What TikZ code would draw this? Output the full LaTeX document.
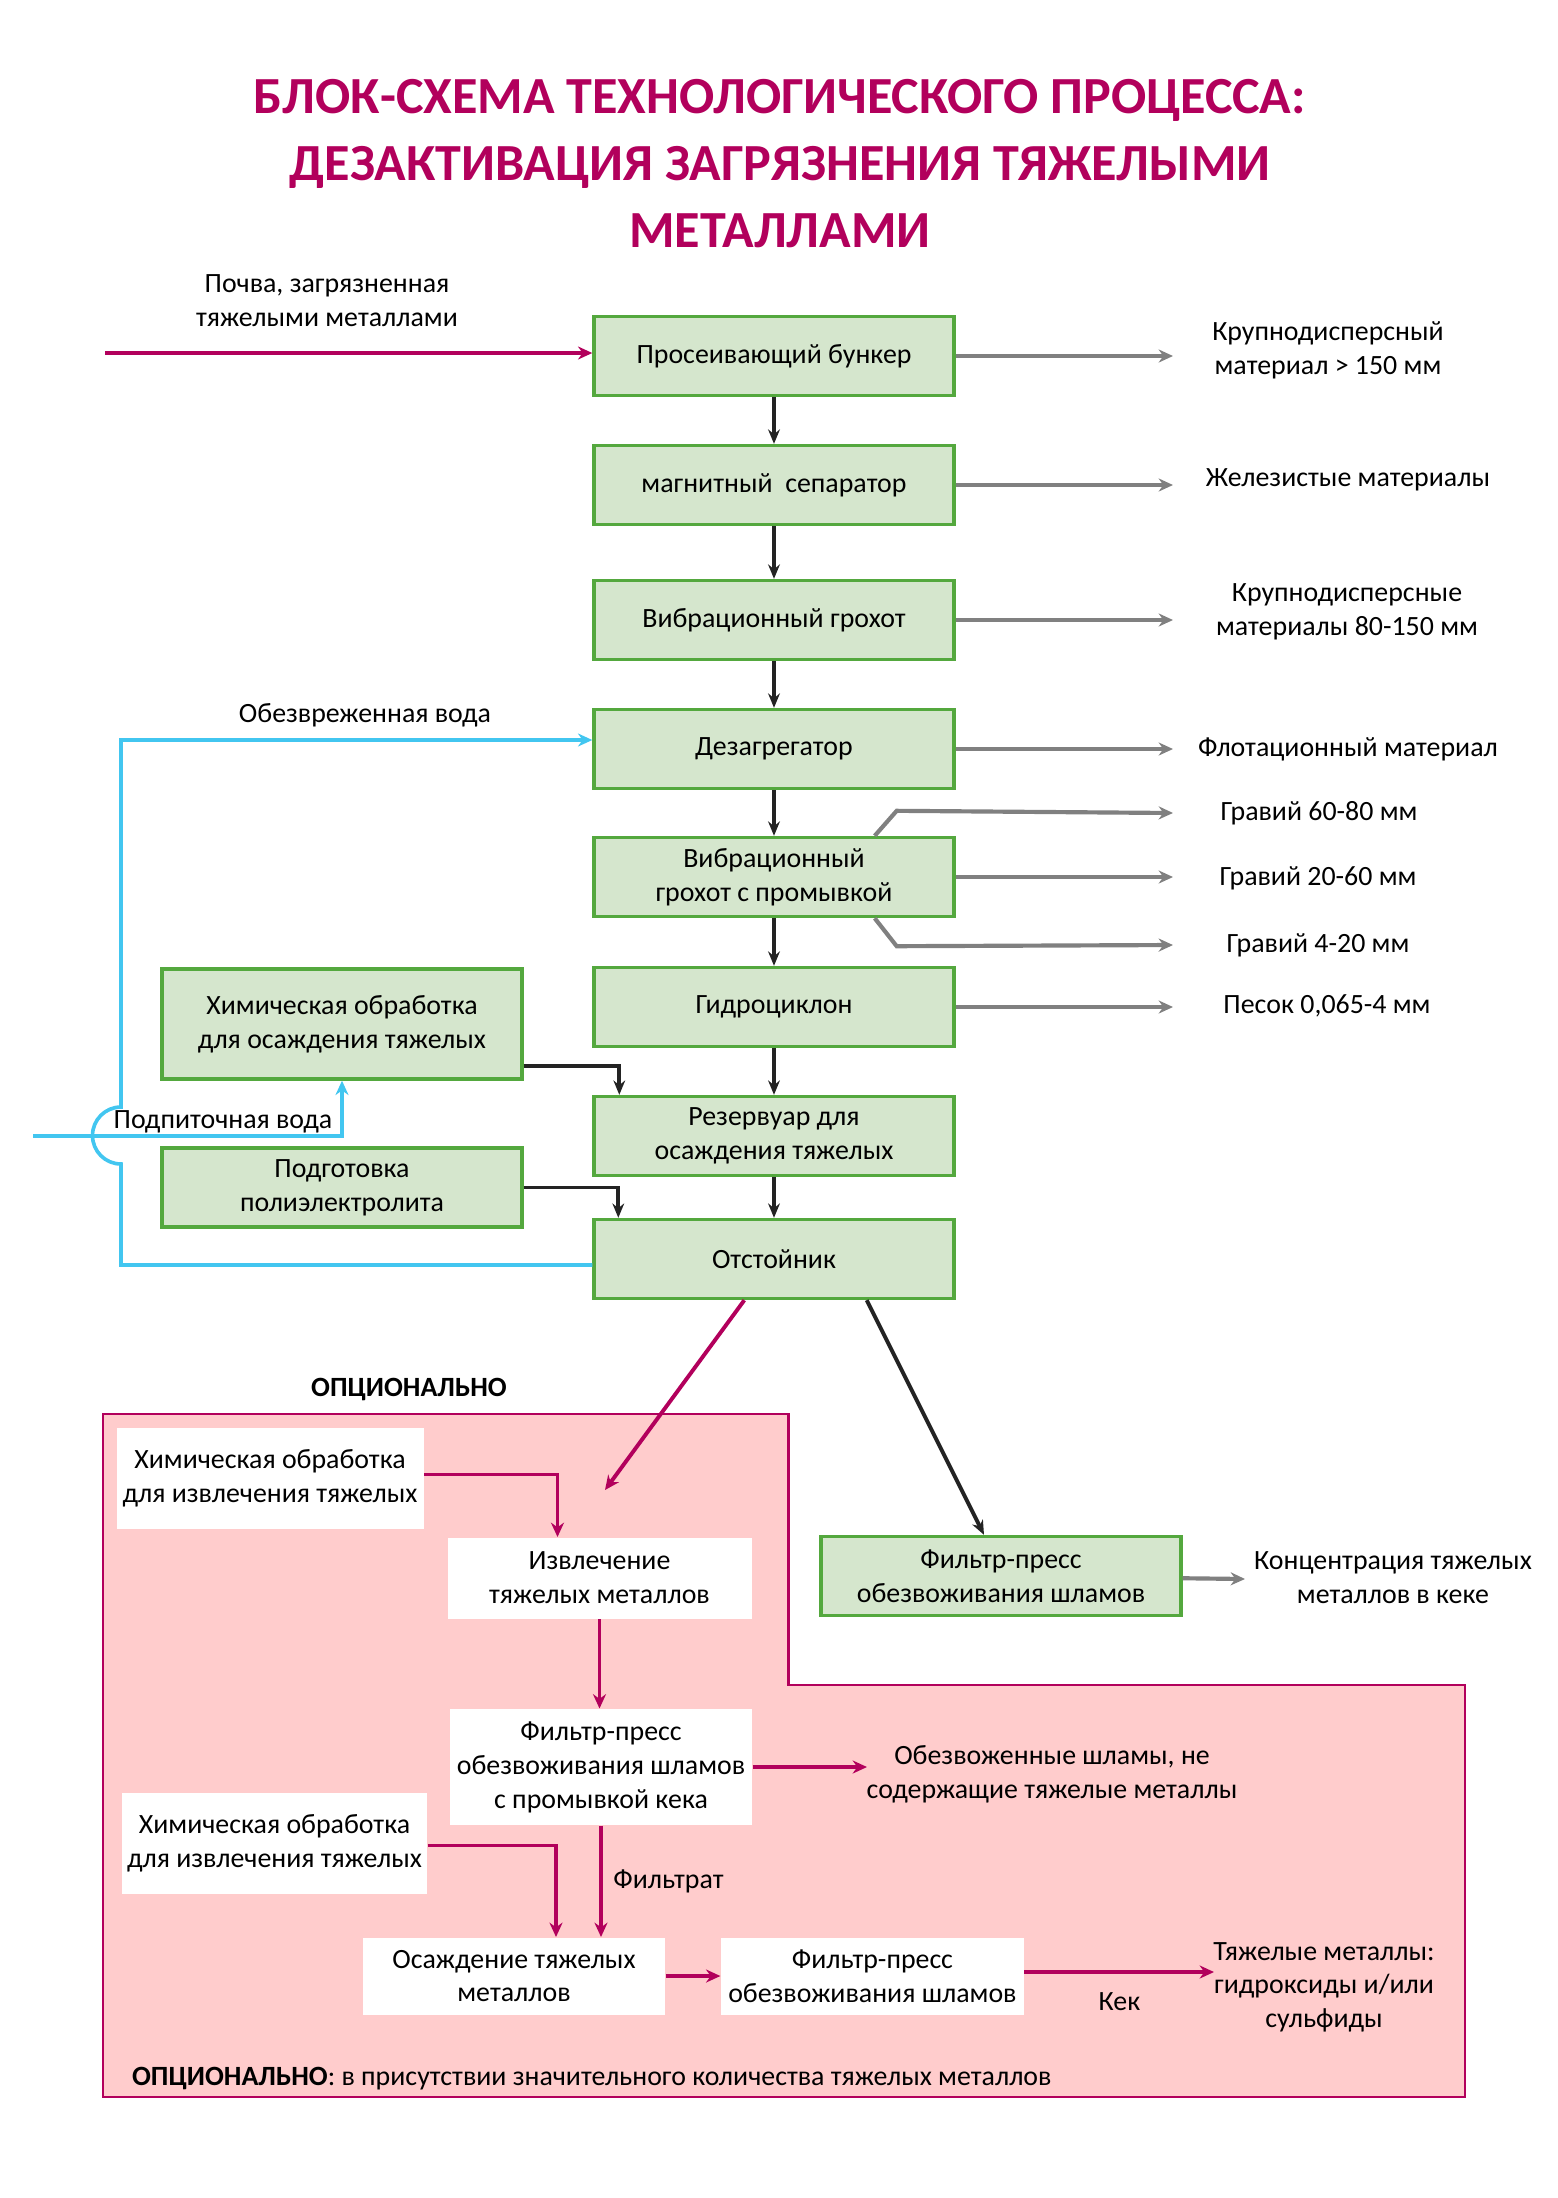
\documentclass[tikz,border=0pt]{standalone}
\usepackage{fontspec}
\setmainfont{Carlito}
\usetikzlibrary{positioning}
\usetikzlibrary{arrows.meta}
\usetikzlibrary{calc}
\definecolor{titlered}{RGB}{178,0,92}
\definecolor{boxgreen}{RGB}{84,168,62}
\definecolor{boxfill}{RGB}{213,230,205}
\definecolor{optpink}{RGB}{255,204,204}
\definecolor{waterblue}{RGB}{66,198,240}
\definecolor{outgray}{RGB}{128,128,128}
\definecolor{flowblack}{RGB}{35,35,35}
\def\u{0.013487cm}
\tikzstyle{procbox}=[draw=boxgreen, fill=boxfill, line width=1.3pt, minimum width=360*\u, minimum height=79*\u, align=center, inner sep=2pt]
\tikzstyle{optbox}=[fill=white, align=center, inner sep=2pt]
\tikzstyle{lbl}=[align=center, inner sep=1pt]
\tikzstyle{mainflow}=[draw=flowblack, line width=1.5pt, -{Stealth[length=5.5pt,width=4.5pt]}]
\tikzstyle{outflow}=[draw=outgray, line width=1.6pt, -{Stealth[length=5.5pt,width=5pt]}]
\tikzstyle{optflow}=[draw=titlered, line width=1.5pt, -{Stealth[length=5.5pt,width=5pt]}]
\tikzstyle{water}=[draw=waterblue, line width=1.4pt]

\begin{document}
\begin{tikzpicture}[x=\u, y=-\u, font=\fontsize{10.7}{13}\selectfont]

  \useasboundingbox (0,0) rectangle (1557,2198);

  \node[font=\fontsize{20}{25.7}\selectfont\bfseries, text=titlered, align=center] (title) at (780,164)
    {БЛОК-СХЕМА ТЕХНОЛОГИЧЕСКОГО ПРОЦЕССА:\\ДЕЗАКТИВАЦИЯ ЗАГРЯЗНЕНИЯ ТЯЖЕЛЫМИ\\МЕТАЛЛАМИ};

  % optional part in the background
  \draw[draw=titlered, fill=optpink, line width=1pt] (103,1414) -- (788.5,1414) -- (788.5,1685) -- (1465,1685) -- (1465,2097) -- (103,2097) -- cycle;
  \node[font=\fontsize{10.7}{13}\selectfont\bfseries] (optlabel) at (409,1389) {ОПЦИОНАЛЬНО};

  % main column
  \foreach \y/\name/\label in {356/bunker/{Просеивающий бункер}, 485/magsep/{магнитный\ \ сепаратор}, 620/vibro/{Вибрационный грохот}, 749/desag/{Дезагрегатор}, 877/washer/{Вибрационный\\грохот с промывкой}, 1007/hydro/{Гидроциклон}, 1136/tank/{Резервуар для\\осаждения тяжелых}, 1259/settler/{Отстойник}}
     \node[procbox] (\name) at (774,\y) {\label};

  \foreach \source/\dest in {bunker/magsep, magsep/vibro, vibro/desag, desag/washer, washer/hydro, hydro/tank, tank/settler}
     \draw[mainflow] (\source) -- (\dest);

  % outputs on the right
  \foreach \name/\y/\ly/\lx/\label in {bunker/356/350/1328/{Крупнодисперсный\\материал > 150 мм}, magsep/485/480/1348/{Железистые материалы}, vibro/620/612/1347/{Крупнодисперсные\\материалы 80-150 мм}, desag/749/749/1348/{Флотационный материал}, washer/877/878/1318/{Гравий 20-60 мм}, hydro/1007/1006/1327/{Песок 0,065-4 мм}}
  {
     \coordinate (\name-out) at (1173,\y);
     \node[lbl] (\name-txt) at (\lx,\ly) {\label};
     \draw[outflow] (\name) -- (\name-out);
  }

  \coordinate (washhi) at (1173,813);
  \coordinate (washlo) at (1173,945);
  \node[lbl] (washhi-txt) at (1319,813) {Гравий 60-80 мм};
  \node[lbl] (washlo-txt) at (1318,945) {Гравий 4-20 мм};
  \draw[outflow] ($(washer.north east)+(-81,0)$) -- ++(22,-25) -- (washhi);
  \draw[outflow] ($(washer.south east)+(-81,0)$) -- ++(22,28) -- (washlo);

  % soil input
  \coordinate (soilin) at (105,353);
  \node[lbl] (soil) at (327,301) {Почва, загрязненная\\тяжелыми металлами};
  \draw[optflow] (soilin) -- (bunker.west |- soilin);

  % reagents on the left
  \node[procbox, minimum height=110*\u] (chemA) at (342,1024) {Химическая обработка\\для осаждения тяжелых};
  \node[procbox] (polyel) at (342,1187.5) {Подготовка\\полиэлектролита};
  \draw[mainflow] ($(chemA.south east)+(0,-15)$) -| ($(tank.north west)+(27,0)$);
  \draw[mainflow] (polyel.east) -| ($(settler.north west)+(26,0)$);

  % water
  \coordinate (feedin) at (33,1136);
  \node[lbl] (feed) at (223,1122) {Подпиточная вода};
  \draw[water, -{Stealth[length=5.5pt,width=5pt]}] (feedin) -| (chemA.south);
  \node[lbl] (cleanwater) at (365,715) {Обезвреженная вода};
  \draw[water, -{Stealth[length=5.5pt,width=5pt]}] ($(settler.west)+(0,6)$) -- (121,1265) -- (121,1164) arc[start angle=90, end angle=270, radius=28.5] -- (121,740) -- ($(desag.west)+(0,-9)$);

  % sludge
  \node[procbox] (fp1) at (1001,1576) {Фильтр-пресс\\обезвоживания шламов};
  \draw[mainflow] ($(settler.south east)+(-89,0)$) -- ($(fp1.north)+(-17,0)$);
  \coordinate (fp1-out) at (1245,1579);
  \node[lbl] (fp1-txt) at (1393,1578) {Концентрация тяжелых\\металлов в кеке};
  \draw[outflow] (fp1) -- (fp1-out);

  % optional treatment
  \coordinate (optin) at (605,1490);
  \draw[optflow] ($(settler.south west)+(152,0)$) -- (optin);

  \node[optbox, minimum width=307*\u, minimum height=101*\u] (chemB) at (270,1478) {Химическая обработка\\для извлечения тяжелых};
  \node[optbox, minimum width=304*\u, minimum height=81*\u] (extract) at (599.5,1578) {Извлечение\\тяжелых металлов};
  \node[optbox, minimum width=302*\u, minimum height=116*\u] (fp2) at (601,1767) {Фильтр-пресс\\обезвоживания шламов\\с промывкой кека};
  \node[optbox, minimum width=302*\u, minimum height=101*\u] (chemC) at (274.5,1843.5) {Химическая обработка\\для извлечения тяжелых};
  \node[optbox, minimum width=302*\u, minimum height=77*\u] (precip) at (514,1976) {Осаждение тяжелых\\металлов};
  \node[optbox, minimum width=303*\u, minimum height=77*\u] (fp3) at (872.4,1976) {Фильтр-пресс\\обезвоживания шламов};

  \draw[optflow] ($(chemB.east)+(0,-3.5)$) -| ($(extract.north)+(-42,0)$);
  \draw[optflow] (extract.south) -- (extract.south |- fp2.north);

  \coordinate (dryout) at (867,1767);
  \node[lbl] (dry) at (1052,1774.5) {Обезвоженные шламы, не\\содержащие тяжелые металлы};
  \draw[optflow] (fp2.east) -- (dryout);

  \draw[optflow] (fp2.south) -- node[right=3pt, lbl] (filtrate) {Фильтрат} (fp2.south |- precip.north);
  \draw[optflow] ($(chemC.east)+(0,2)$) -| ($(precip.north)+(42,0)$);
  \draw[optflow] (precip) -- (fp3);

  \coordinate (cakeout) at (1214,1972);
  \node[lbl] (cake) at (1119.4,2001.7) {Кек};
  \node[lbl] (metals) at (1324,1987.3) {Тяжелые металлы:\\гидроксиды и/или\\сульфиды};
  \draw[optflow] ($(fp3.east)+(0,-4)$) -- (cakeout);

  \node[lbl, anchor=west] (optnote) at (129,2079) {\textbf{ОПЦИОНАЛЬНО}: в присутствии значительного количества тяжелых металлов};

\end{tikzpicture}
\end{document}
